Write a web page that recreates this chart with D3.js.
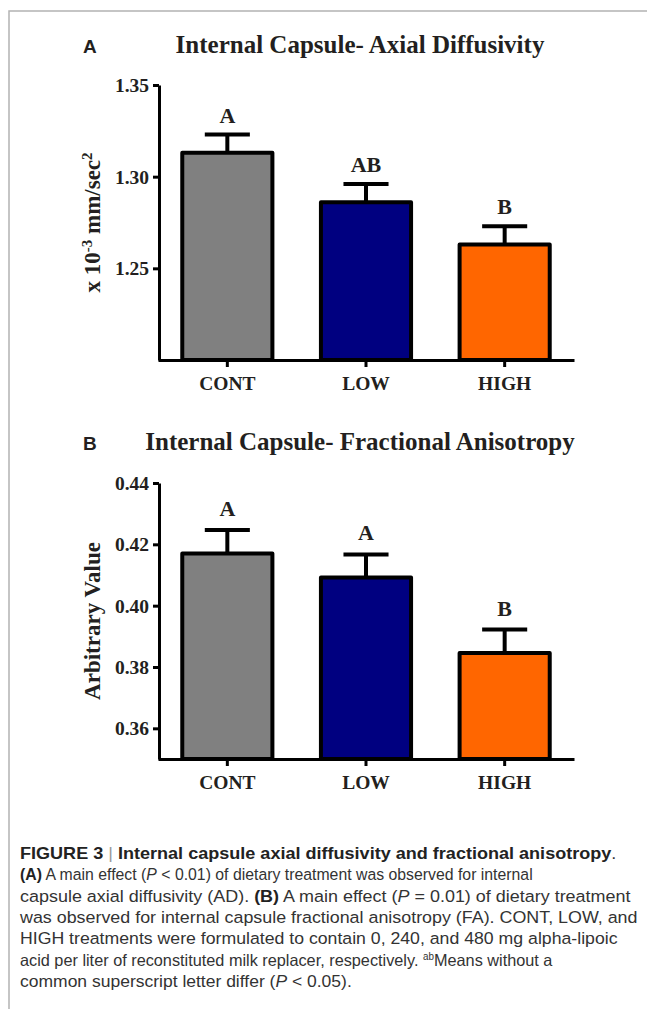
<!DOCTYPE html>
<html>
<head>
<meta charset="utf-8">
<script src="https://cdn.jsdelivr.net/npm/d3@7"></script>
<style>
  body { margin: 0; background: #fff; }
  svg { display: block; }
</style>
</head>
<body>
<div class="fig"></div>
<script>
/* DATA */
var groups = ["CONT", "LOW", "HIGH"];
var barColors = ["#808080", "#000080", "#ff6600"];

var adMeans = [1.313, 1.286, 1.263];
var adSem = [0.010, 0.010, 0.010];
var adLetters = ["A", "AB", "B"];
var adTicks = [1.25, 1.30, 1.35];

var faMeans = [0.4170, 0.4092, 0.3846];
var faSem = [0.0077, 0.0075, 0.0076];
var faLetters = ["A", "A", "B"];
var faTicks = [0.36, 0.38, 0.40, 0.42, 0.44];

var captionLines = [
  [{t: "FIGURE 3", b: 1}, {t: " | ", sep: 1}, {t: "Internal capsule axial diffusivity and fractional anisotropy", b: 1}, {t: "."}],
  [{t: "(A)", b: 1}, {t: " A main effect ("}, {t: "P", i: 1}, {t: " < 0.01) of dietary treatment was observed for internal"}],
  [{t: "capsule axial diffusivity (AD). "}, {t: "(B)", b: 1}, {t: " A main effect ("}, {t: "P", i: 1}, {t: " = 0.01) of dietary treatment"}],
  [{t: "was observed for internal capsule fractional anisotropy (FA). CONT, LOW, and"}],
  [{t: "HIGH treatments were formulated to contain 0, 240, and 480 mg alpha-lipoic"}],
  [{t: "acid per liter of reconstituted milk replacer, respectively. "}, {t: "ab", sup: 1}, {t: "Means without a"}],
  [{t: "common superscript letter differ ("}, {t: "P", i: 1}, {t: " < 0.05)."}]
];
var captionWidths = [597, 513, 611, 618, 598, 533, 332];

var serif = "'Liberation Serif', 'Times New Roman', serif";
var sans = "'Liberation Sans', Arial, sans-serif";
var ink = "#231f20";

var svg = d3.select(".fig")
  .append("svg")
  .attr("width", 647)
  .attr("height", 1009);

/* frame */
svg.append("path")
  .attr("d", "M9,1009V11H647")
  .attr("fill", "none")
  .attr("stroke", "#b3b3b3")
  .attr("stroke-width", 1.5);

function drawPanel(cfg) {
  var g = svg.append("g");

  var x = d3.scaleBand()
    .domain(groups)
    .range([158, 574])
    .paddingInner(0.35)
    .paddingOuter(0.175);

  var y = d3.scaleLinear()
    .domain(cfg.domain)
    .range([cfg.bottom, cfg.top]);

  // panel letter + title
  g.append("text")
    .attr("x", 83).attr("y", cfg.titleY)
    .attr("font-family", sans).attr("font-weight", "bold")
    .attr("font-size", 19).attr("fill", ink)
    .text(cfg.panel);

  g.append("text")
    .attr("x", 360).attr("y", cfg.titleY)
    .attr("text-anchor", "middle")
    .attr("font-family", serif).attr("font-weight", "bold")
    .attr("font-size", 25).attr("fill", ink)
    .text(cfg.title);

  // bars
  g.selectAll("rect.bar")
    .data(cfg.means)
    .enter().append("rect")
    .attr("class", "bar")
    .attr("x", function(d, i) { return x(groups[i]); })
    .attr("y", function(d) { return y(d); })
    .attr("width", x.bandwidth())
    .attr("height", function(d) { return cfg.bottom - y(d); })
    .attr("fill", function(d, i) { return barColors[i]; })
    .attr("stroke", "#000")
    .attr("stroke-width", 4)
    .attr("stroke-linejoin", "round");

  // error bars (upper only)
  var errs = g.selectAll("g.err")
    .data(cfg.means)
    .enter().append("g")
    .attr("class", "err")
    .attr("stroke", "#000")
    .attr("stroke-width", 4);

  errs.append("line")
    .attr("x1", function(d, i) { return x(groups[i]) + x.bandwidth() / 2; })
    .attr("x2", function(d, i) { return x(groups[i]) + x.bandwidth() / 2; })
    .attr("y1", function(d) { return y(d); })
    .attr("y2", function(d, i) { return y(d + cfg.sem[i]); });

  errs.append("line")
    .attr("x1", function(d, i) { return x(groups[i]) + x.bandwidth() / 4; })
    .attr("x2", function(d, i) { return x(groups[i]) + x.bandwidth() * 3 / 4; })
    .attr("y1", function(d, i) { return y(d + cfg.sem[i]); })
    .attr("y2", function(d, i) { return y(d + cfg.sem[i]); });

  // significance letters
  g.selectAll("text.sig")
    .data(cfg.means)
    .enter().append("text")
    .attr("class", "sig")
    .attr("x", function(d, i) { return x(groups[i]) + x.bandwidth() / 2; })
    .attr("y", function(d, i) { return y(d + cfg.sem[i]) - cfg.letterGap; })
    .attr("text-anchor", "middle")
    .attr("font-family", serif).attr("font-weight", "bold")
    .attr("font-size", 22).attr("fill", ink)
    .text(function(d, i) { return cfg.letters[i]; });

  // axes
  var yAxis = g.append("g")
    .attr("transform", "translate(159,0)")
    .call(d3.axisLeft(y).tickValues(cfg.ticks).tickFormat(d3.format(".2f")).tickSize(6).tickSizeOuter(0));

  var xAxis = g.append("g")
    .attr("transform", "translate(0," + cfg.bottom + ")")
    .call(d3.axisBottom(x).tickSize(7).tickSizeOuter(0));

  [yAxis, xAxis].forEach(function(a) {
    a.select(".domain").attr("stroke", "#000").attr("stroke-width", 3);
    a.selectAll(".tick line").attr("stroke", "#000").attr("stroke-width", 3);
    a.selectAll(".tick text")
      .attr("font-family", serif).attr("font-weight", "bold")
      .attr("font-size", 19.5).attr("fill", ink);
  });
  yAxis.selectAll(".tick text").attr("x", -10).attr("dy", "0.34em");
  xAxis.selectAll(".tick text").attr("y", 12).attr("dy", "0.9em");

  // y title
  var yt = g.append("text")
    .attr("transform", "translate(100," + ((cfg.top + cfg.bottom) / 2) + ") rotate(-90)")
    .attr("text-anchor", "middle")
    .attr("font-family", serif).attr("font-weight", "bold")
    .attr("font-size", 23).attr("fill", ink);
  cfg.yTitle.forEach(function(p) {
    var ts = yt.append("tspan").text(p.t);
    if (p.sup) ts.attr("font-size", 15).attr("baseline-shift", "55%");
  });
}

drawPanel({
  panel: "A", title: "Internal Capsule- Axial Diffusivity", titleY: 53,
  domain: [1.20, 1.35], top: 85, bottom: 360,
  means: adMeans, sem: adSem, letters: adLetters, ticks: adTicks, letterGap: 12,
  yTitle: [{t: "x 10"}, {t: "-3", sup: 1}, {t: " mm/sec"}, {t: "2", sup: 1}]
});

drawPanel({
  panel: "B", title: "Internal Capsule- Fractional Anisotropy", titleY: 450,
  domain: [0.35, 0.44], top: 483, bottom: 759,
  means: faMeans, sem: faSem, letters: faLetters, ticks: faTicks, letterGap: 14,
  yTitle: [{t: "Arbitrary Value"}]
});

/* caption: each line squeezed horizontally to the width it has in the figure */
var cap = svg.append("g")
  .attr("font-family", sans)
  .attr("font-size", 16.5)
  .attr("fill", "#333");

captionLines.forEach(function(line, li) {
  var t = cap.append("text");
  line.forEach(function(p) {
    var ts = t.append("tspan").text(p.t);
    if (p.b) ts.attr("font-weight", "bold").attr("fill", "#222");
    if (p.i) ts.attr("font-style", "italic");
    if (p.sep) ts.attr("fill", "#999");
    if (p.sup) ts.attr("font-size", 10).attr("baseline-shift", "super");
  });
  var w = t.node().getComputedTextLength();
  var sx = captionWidths[li] / w;
  t.attr("transform", "translate(20," + (859 + li * 21.3) + ") scale(" + sx + ",1)");
});
</script>
</body>
</html>
